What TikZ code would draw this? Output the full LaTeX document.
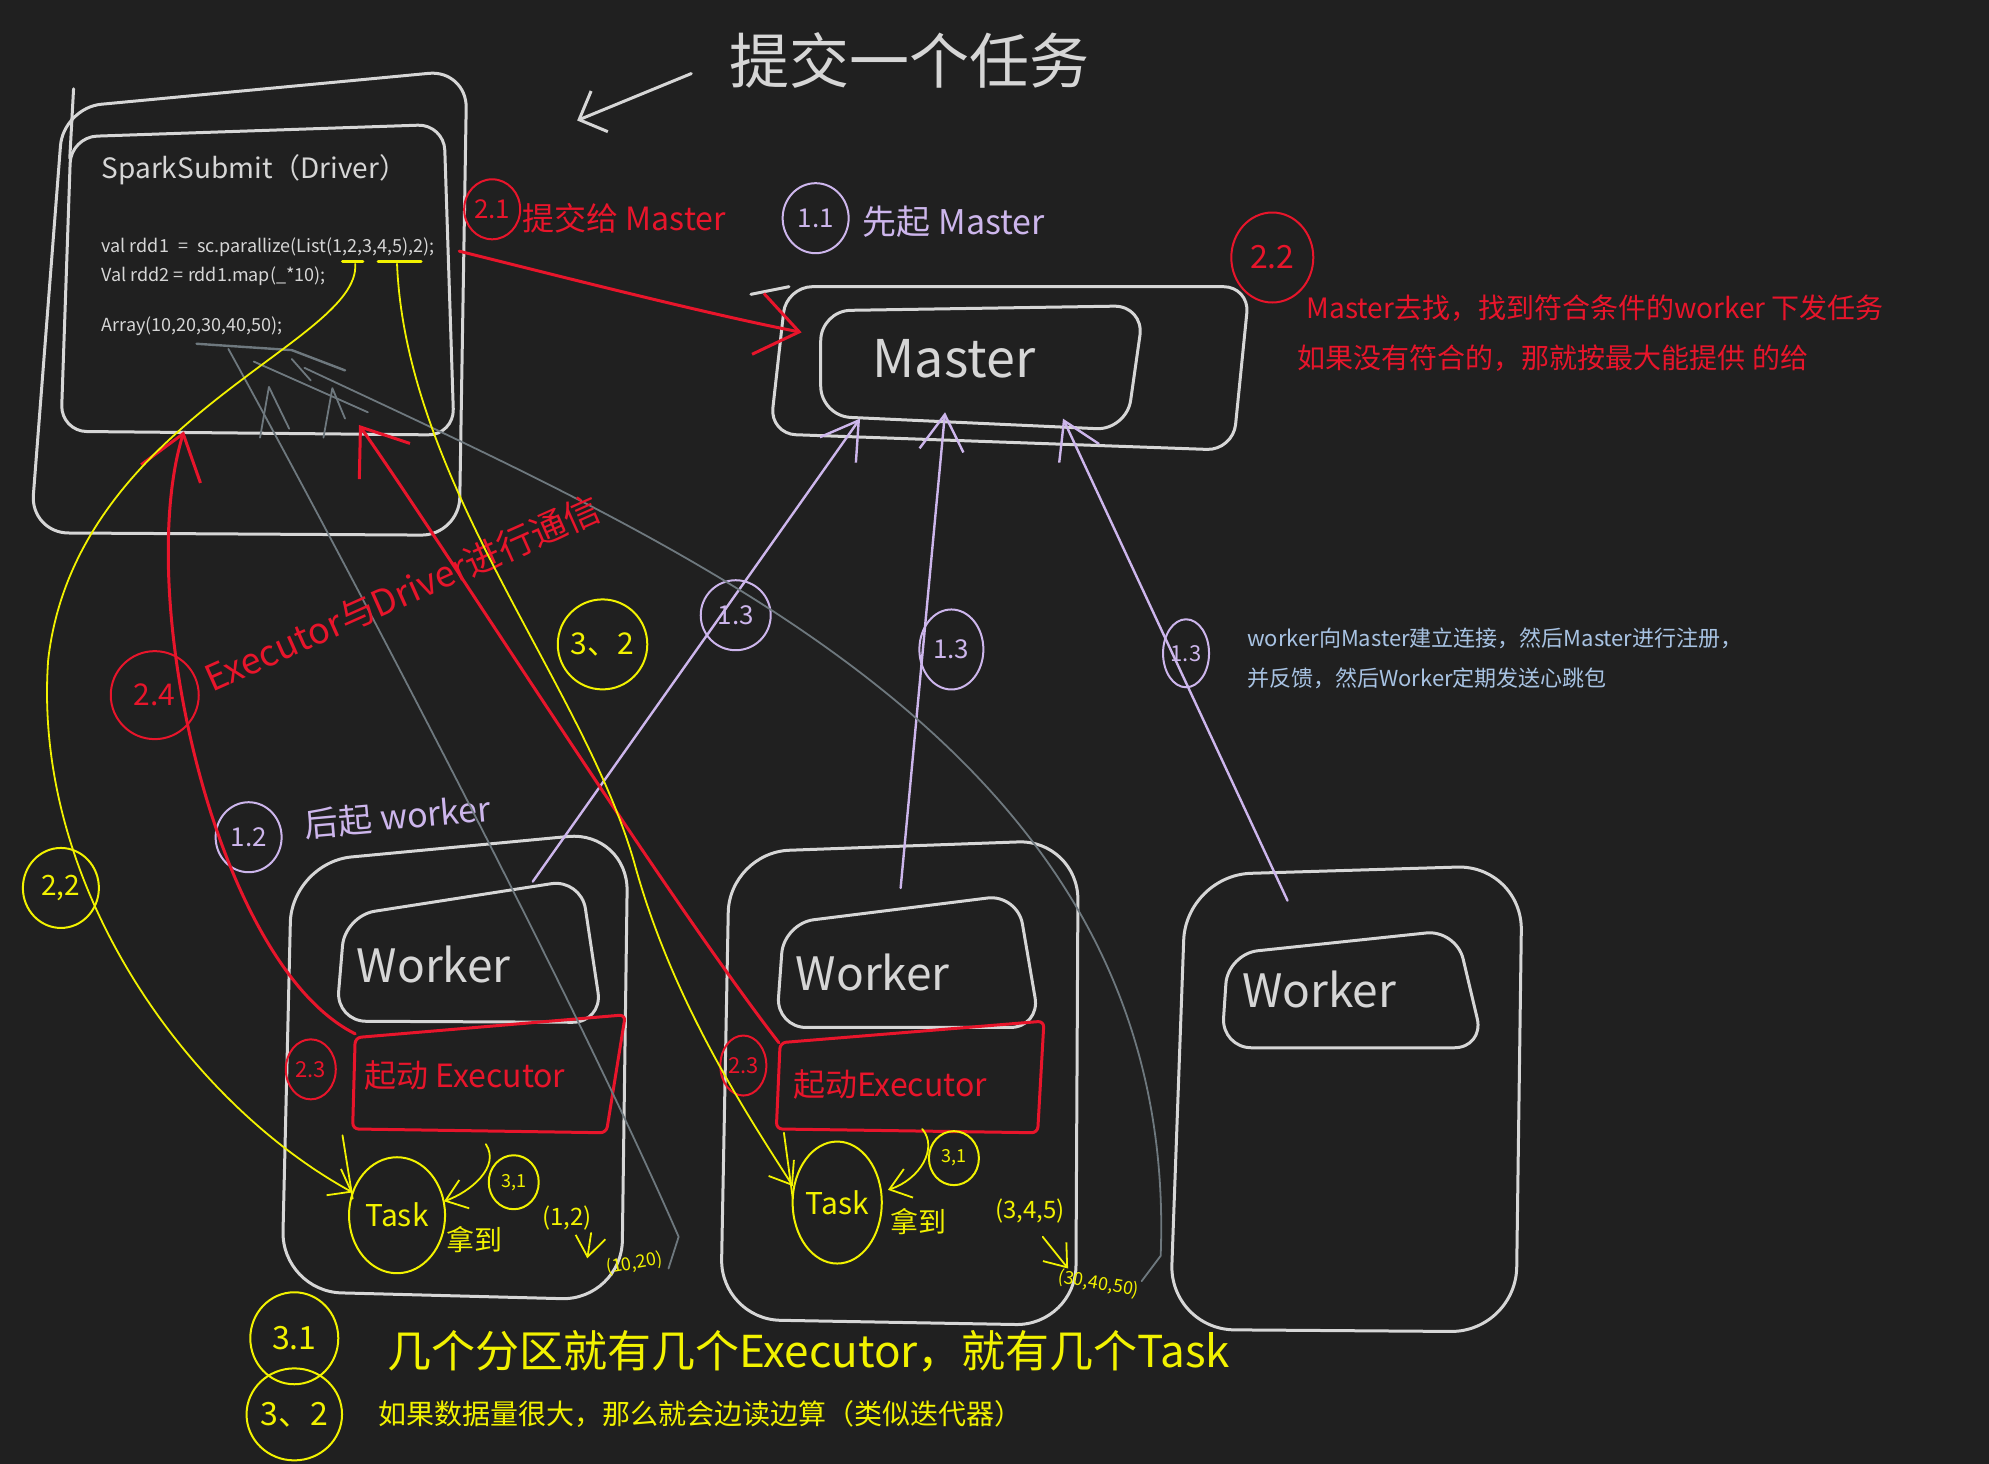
\documentclass[tikz,border=0pt]{standalone}
\usepackage{fontspec}
\setmainfont{Noto Sans CJK SC}
\usetikzlibrary{arrows.meta,shapes.geometric}
\definecolor{bg}{HTML}{202020}
\definecolor{chalk}{HTML}{D6D6D6}
\definecolor{rd}{HTML}{E8152B}
\definecolor{yl}{HTML}{F2F200}
\definecolor{lv}{HTML}{CDB6EC}
\definecolor{gr}{HTML}{6E787E}
\definecolor{bl}{HTML}{A8C3E3}
\newcommand\fsz[1]{\fontsize{#1pt}{#1pt}\selectfont}
\tikzset{
 chalkbox/.style={draw=chalk, line width=3pt},
 redbox/.style={draw=rd, line width=3pt, rounded corners=6},
 chalkarr/.style={draw=chalk, line width=3pt, -{Straight Barb[length=22pt,width=44pt,line width=3pt]}},
 redarr/.style={draw=rd, line width=3pt, -{Straight Barb[length=42pt,width=62pt,line width=3pt]}},
 lvarr/.style={draw=lv, line width=2.4pt, -{Straight Barb[length=36pt,width=44pt,line width=2.4pt]}},
 ylarr/.style={draw=yl, line width=1.8pt, -{Straight Barb[length=20pt,width=30pt,line width=1.8pt]}},
 ylline/.style={draw=yl, line width=1.8pt},
 grline/.style={draw=gr, line width=1.8pt},
 badge/.style={ellipse, draw=#1, text=#1, line width=2pt, inner sep=0pt},
 txt/.style={inner sep=0pt, text=#1},
 worker/.style={inner sep=0pt, text=chalk, font=\fsz{46}},
}
\begin{document}
\begin{tikzpicture}[x=1.2685pt,y=-1.2685pt,line cap=round,line join=round]
\fill[bg] (0,0) rectangle (1568,1154);
\useasboundingbox (0,0) rectangle (1568,1154);

% ---------- title ----------
\node[txt=chalk, font=\fsz{60}] (title) at (717,48) {提交一个任务};
\coordinate (tA) at (545,58);
\coordinate (tB) at (455,95);
\draw[chalkarr] (tA) -- (tB);

% ---------- driver ----------
\draw[chalkbox, rounded corners=38] (50,85) -- (368,55) -- (362,422) -- (24,420) -- cycle;
\draw[chalkbox] (58,70) -- (55,125);
\draw[chalkbox, rounded corners=26] (56,108) -- (350,98) -- (358,343) -- (48,340) -- cycle;
\node[txt=chalk, anchor=west, font=\fsz{28}] (dtitle) at (80,134) {SparkSubmit（Driver）};
\node[txt=chalk, anchor=west, font=\fsz{18}] (code1) at (80,195) {val rdd1\enspace=\enspace sc.parallize(List(1,2,3,4,5),2);};
\node[txt=chalk, anchor=west, font=\fsz{18}] (code2) at (80,218) {Val rdd2 = rdd1.map(\_*10);};
\node[txt=chalk, anchor=west, font=\fsz{18}] (code3) at (80,257) {Array(10,20,30,40,50);};

% ---------- master ----------
\draw[chalkbox, rounded corners=26] (620,226) -- (985,226) -- (972,355) -- (607,342) -- cycle;
\draw[chalkbox] (592,232) -- (622,226);
\draw[chalkbox, rounded corners=30] (647,245) -- (902,241) -- (888,339) -- (647,328) -- cycle;
\node[worker, font=\fsz{52}] (master) at (752,283) {Master};

\node[badge=rd, minimum width=56pt, minimum height=60pt, font=\fsz{26}] (b21) at (388,165) {2.1};
\node[txt=rd, anchor=west, font=\fsz{32}] (l21) at (412,172) {提交给 Master};
\node[badge=lv, minimum width=66pt, minimum height=70pt, font=\fsz{26}] (b11) at (643,172) {1.1};
\node[txt=lv, anchor=west, font=\fsz{34}] (l11) at (680,175) {先起 Master};
\node[badge=rd, minimum width=82pt, minimum height=90pt, font=\fsz{32}] (b22) at (1003,203) {2.2};
\node[txt=rd, anchor=west, font=\fsz{28}] (r1) at (1030,243) {Master去找，找到符合条件的worker 下发任务};
\node[txt=rd, anchor=west, font=\fsz{28}] (r2) at (1023,282) {如果没有符合的，那就按最大能提供 的给};
\node[txt=bl, anchor=west, font=\fsz{22}] (bl1) at (983,503) {worker向Master建立连接，然后Master进行注册，};
\node[txt=bl, anchor=west, font=\fsz{22}] (bl2) at (983,535) {并反馈，然后Worker定期发送心跳包};

% driver -> master (2.1)
\coordinate (dOut) at (362,198);
\coordinate (mIn) at (632,262);
\draw[redarr] (dOut) .. controls (450,220) and (560,248) .. (mIn);

% ---------- workers ----------
% worker 1
\draw[chalkbox, rounded corners=60] (230,680) -- (495,655) -- (490,1025) -- (222,1018) -- cycle;
\draw[chalkbox, rounded corners=30] (272,722) -- (458,693) -- (475,806) -- (265,805) -- cycle;
\node[worker] (w1) at (342,760) {Worker};
\draw[redbox] (280,818) -- (493,800) -- (478,893) -- (278,890) -- cycle;
\node[txt=rd, anchor=west, font=\fsz{32}] (e1) at (287,848) {起动 Executor};
\node[badge=rd, minimum width=50pt, minimum height=60pt, font=\fsz{22}] (b23a) at (245,843) {2.3};
% worker 2
\draw[chalkbox, rounded corners=60] (575,672) -- (850,662) -- (848,1045) -- (568,1040) -- cycle;
\draw[chalkbox, rounded corners=30] (618,728) -- (802,705) -- (820,810) -- (612,810) -- cycle;
\node[worker] (w2) at (688,767) {Worker};
\draw[redbox] (615,822) -- (823,805) -- (818,893) -- (612,890) -- cycle;
\node[txt=rd, anchor=west, font=\fsz{32}] (e2) at (625,855) {起动Executor};
\node[badge=rd, minimum width=46pt, minimum height=60pt, font=\fsz{22}] (b23b) at (586,840) {2.3};
% worker 3
\draw[chalkbox, rounded corners=65] (935,690) -- (1200,682) -- (1195,1050) -- (922,1048) -- cycle;
\draw[chalkbox, rounded corners=30] (968,752) -- (1148,733) -- (1170,826) -- (963,826) -- cycle;
\node[worker] (w3) at (1040,780) {Worker};

% ---------- worker -> master (1.3) ----------
\coordinate (w1top) at (420,695);
\coordinate (w2top) at (710,700);
\coordinate (w3top) at (1015,710);
\coordinate (m1) at (678,330);
\coordinate (m2) at (745,325);
\coordinate (m3) at (838,330);
\draw[lvarr] (w1top) -- (m1);
\draw[lvarr] (w2top) -- (m2);
\draw[lvarr] (w3top) -- (m3);
\node[badge=lv, minimum width=70pt, minimum height=70pt, font=\fsz{26}] (b13a) at (580,485) {1.3};
\node[badge=lv, minimum width=64pt, minimum height=80pt, font=\fsz{26}] (b13b) at (750,512) {1.3};
\node[badge=lv, minimum width=46pt, minimum height=68pt, font=\fsz{22}] (b13c) at (935,515) {1.3};
\node[badge=lv, minimum width=66pt, minimum height=70pt, font=\fsz{26}] (b12) at (196,660) {1.2};
\node[txt=lv, anchor=west, font=\fsz{34}, rotate=5] (l12) at (240,650) {后起 worker};

% ---------- gray lines ----------
\coordinate (g1s) at (180,275);
\coordinate (g1e) at (535,975);
\coordinate (g1t) at (527,1000);
\coordinate (g2s) at (240,290);
\coordinate (g2e) at (915,990);
\coordinate (g2t) at (900,1010);
\draw[grline] (g1s) .. controls (260,420) and (450,780) .. (g1e) -- (g1t);
\draw[grline] (g2s) .. controls (560,440) and (930,600) .. (g2e) -- (g2t);
\draw[grline, line width=2.4pt] (155,271) -- (230,276) -- (272,292);
\draw[grline] (200,285) -- (290,325);
\draw[grline] (205,345) -- (212,305) -- (228,338);
\draw[grline] (255,345) -- (262,306) -- (272,330);
\draw[grline] (230,283) -- (245,300);

% ---------- red executor -> driver (2.4) ----------
\coordinate (x1) at (280,815);
\coordinate (x2) at (614,822);
\coordinate (dB1) at (145,340);
\coordinate (dB2) at (283,335);
\draw[redarr] (x1) .. controls (170,760) and (105,470) .. (dB1);
\draw[redarr] (x2) .. controls (520,700) and (350,430) .. (dB2);
\node[badge=rd, minimum width=88pt, minimum height=88pt, font=\fsz{30}] (b24) at (122,548) {2.4};
\node[txt=rd, anchor=west, font=\fsz{36}, rotate=24] (l24) at (163,536) {Executor与Driver进行通信};

% ---------- yellow ----------
\draw[ylline, line width=3pt] (270,206) -- (286,206);
\draw[ylline, line width=3pt] (298,206) -- (332,206);
\coordinate (y1s) at (280,208);
\coordinate (y1e) at (278,940);
\coordinate (y2s) at (313,208);
\coordinate (y2e) at (625,935);
\draw[ylarr] (y1s) .. controls (285,270) and (60,330) .. (38,520) .. controls (25,700) and (150,870) .. (y1e);
\draw[ylarr] (y2s) .. controls (320,380) and (460,540) .. (500,680) .. controls (530,790) and (590,880) .. (y2e);
\node[badge=yl, minimum width=76pt, minimum height=80pt, font=\fsz{28}] (b22y) at (48,700) {2,2};
\node[badge=yl, minimum width=88pt, minimum height=90pt, font=\fsz{30}] (b32) at (475,508) {3、2};

% worker1 task
\node[badge=yl, minimum width=96pt, minimum height=116pt, font=\fsz{30}] (task1) at (313,958) {Task};
\node[txt=yl, font=\fsz{28}] (get1) at (374,977) {拿到};
\node[txt=yl, font=\fsz{24}] (p1) at (447,960) {(1,2)};
\node[txt=yl, font=\fsz{18}, rotate=10] (q1) at (500,996) {(10,20)};
\node[badge=yl, minimum width=50pt, minimum height=54pt, font=\fsz{18}] (b31a) at (405,932) {3,1};
\coordinate (a1s) at (383,902);
\coordinate (a1e) at (350,947);
\draw[ylarr] (a1s) .. controls (395,920) and (370,940) .. (a1e);
\coordinate (k1s) at (466,972);
\coordinate (k1e) at (463,992);
\draw[ylarr] (k1s) -- (k1e);
\draw[ylline] (270,895) -- (278,945);

% worker2 task
\node[badge=yl, minimum width=82pt, minimum height=122pt, font=\fsz{30}] (task2) at (660,948) {Task};
\node[txt=yl, font=\fsz{28}] (get2) at (724,963) {拿到};
\node[txt=yl, font=\fsz{24}] (p2) at (812,955) {(3,4,5)};
\node[txt=yl, font=\fsz{18}, rotate=-10] (q2) at (866,1012) {(30,40,50)};
\node[badge=yl, minimum width=50pt, minimum height=54pt, font=\fsz{18}] (b31b) at (752,913) {3,1};
\coordinate (a2s) at (727,890);
\coordinate (a2e) at (700,938);
\draw[ylarr] (a2s) .. controls (740,905) and (725,930) .. (a2e);
\coordinate (k2s) at (822,975);
\coordinate (k2e) at (842,1000);
\draw[ylarr] (k2s) -- (k2e);
\draw[ylline] (618,893) -- (625,945);

% bottom notes
\node[badge=yl, minimum width=88pt, minimum height=92pt, font=\fsz{32}] (n31) at (232,1055) {3.1};
\node[txt=yl, anchor=west, font=\fsz{44}] (t31) at (305,1065) {几个分区就有几个Executor，就有几个Task};
\node[badge=yl, minimum width=88pt, minimum height=92pt, font=\fsz{32}] (n32) at (232,1115) {3、2};
\node[txt=yl, anchor=west, font=\fsz{28}] (t32) at (298,1115) {如果数据量很大，那么就会边读边算（类似迭代器）};
\end{tikzpicture}
\end{document}
